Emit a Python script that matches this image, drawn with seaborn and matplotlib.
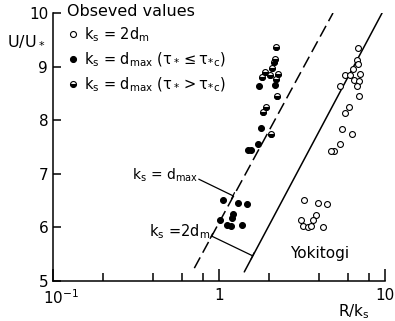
import matplotlib
matplotlib.use("Agg")
import matplotlib.pyplot as plt
from matplotlib.lines import Line2D
from matplotlib.markers import MarkerStyle
from matplotlib.ticker import FixedLocator, NullFormatter
from matplotlib.transforms import ScaledTranslation
import pandas as pd
import seaborn as sns

# ── Data ─────────────────────────────────────────────────────────────────────

# ks = 2dm (open circles)
open_R = [6.91, 6.78, 6.88, 6.39, 5.72, 6.15, 7.07, 6.53, 7.00, 6.81, 5.33,
          6.97, 6.07, 5.78, 5.48, 6.35, 5.39, 4.96, 4.73,
          3.26, 3.93, 4.46, 3.84, 3.70, 3.12, 3.22, 3.45, 3.59, 4.21]
open_U = [9.34, 9.13, 9.04, 8.95, 8.85, 8.85, 8.86, 8.75, 8.73, 8.64, 8.64,
          8.45, 8.25, 8.14, 7.84, 7.74, 7.55, 7.43, 7.43,
          6.52, 6.45, 6.44, 6.23, 6.14, 6.14, 6.03, 6.01, 6.03, 6.01]

# ks = dmax, tau* <= tau*c (filled)
filled_R = [2.18, 1.73, 1.78, 1.72, 1.56, 1.49,
            1.05, 1.31, 1.47, 1.21, 1.19, 1.02, 1.12, 1.18, 1.37]
filled_U = [8.66, 8.64, 7.85, 7.55, 7.44, 7.44,
            6.52, 6.45, 6.44, 6.25, 6.17, 6.13, 6.04, 6.03, 6.04]

# ks = dmax, tau* > tau*c (half filled)
half_R = [2.20, 2.16, 2.15, 2.08, 1.89, 2.03, 2.28, 2.19, 1.82,
          2.23, 1.92, 1.84, 2.07]
half_U = [9.36, 9.15, 9.08, 8.97, 8.90, 8.84, 8.86, 8.76, 8.81,
          8.46, 8.25, 8.15, 7.75]

# log-law lines
dashed_R = [0.71, 4.86]
dashed_U = [5.24, 10.0]
solid_R = [1.42, 9.6]
solid_U = [5.17, 10.0]

x_major = [0.1, 1, 10]
x_major_labels = ["10$^{-1}$", "1", "10"]
x_minor = [0.2, 0.4, 0.6, 0.8, 2, 4, 6, 8]
y_ticks = [5, 6, 7, 8, 9, 10]

# ── Style ────────────────────────────────────────────────────────────────────

sns.set_style("ticks")
plt.rcParams.update({
    "font.family": ["DejaVu Sans"],
    "xtick.direction": "in",
    "ytick.direction": "in",
    "axes.linewidth": 1.1,
    "axes.edgecolor": "black",
    "axes.labelcolor": "black",
    "text.color": "black",
    "xtick.color": "black",
    "ytick.color": "black",
    "mathtext.default": "regular",
})

df_open = pd.DataFrame({"R": open_R, "U": open_U})
df_fill = pd.DataFrame({"R": filled_R, "U": filled_U})
df_half = pd.DataFrame({"R": half_R, "U": half_U})

fig = plt.figure(figsize=(3.95, 3.21), dpi=100)
ax = fig.add_axes([0.1342, 0.1246, 0.8405, 0.8349])

# lines
sns.lineplot(x=dashed_R, y=dashed_U, ax=ax, color="black", lw=1.1,
             estimator=None, sort=False)
ax.lines[-1].set_dashes([8, 3.5])
sns.lineplot(x=solid_R, y=solid_U, ax=ax, color="black", lw=1.1,
             estimator=None, sort=False)

MS = 18
sns.scatterplot(data=df_open, x="R", y="U", ax=ax, marker="o", s=MS,
                facecolor="white", edgecolor="black", linewidth=0.8, zorder=3)
sns.scatterplot(data=df_fill, x="R", y="U", ax=ax, marker="o", s=MS,
                facecolor="black", edgecolor="black", linewidth=0.8, zorder=3)
sns.scatterplot(data=df_half, x="R", y="U", ax=ax, marker="o", s=MS,
                facecolor="white", edgecolor="black", linewidth=0.8, zorder=3)
sns.scatterplot(data=df_half, x="R", y="U", ax=ax,
                marker=MarkerStyle("o", fillstyle="bottom"), s=MS,
                facecolor="black", edgecolor="black", linewidth=0.8, zorder=4)

ax.set_xscale("log")
ax.set_xlim(0.1, 10)
ax.set_ylim(5, 10)
ax.xaxis.set_major_locator(FixedLocator(x_major))
ax.set_xticklabels(x_major_labels)
ax.xaxis.set_minor_locator(FixedLocator(x_minor))
ax.xaxis.set_minor_formatter(NullFormatter())
ax.set_yticks(y_ticks)
ax.set_yticklabels([str(v) for v in y_ticks])
ax.tick_params(axis="x", which="major", length=9, width=1.1, pad=5, labelsize=11)
ax.tick_params(axis="x", which="minor", length=5.5, width=1.1)
ax.tick_params(axis="y", which="major", length=5.5, width=1.1, pad=3.5, labelsize=11)
sns.despine(ax=ax)

# nudge the 10^-1 label to the right, as in the reference
first = ax.get_xticklabels()[0]
first.set_transform(first.get_transform() + ScaledTranslation(8 / 100, 0, fig.dpi_scale_trans))

ax.set_xlabel("R/k$_s$", fontsize=11, va="center")
ax.xaxis.set_label_coords(0.905, -0.115)
ax.set_ylabel("U/U$_*$", fontsize=11.5, rotation=0, ha="center", va="center")
ax.yaxis.set_label_coords(-0.081, 0.893)

# annotations
ax.text(0.75, 6.98, "k$_s$ = d$_{max}$", ha="right", va="center", fontsize=10)
ax.annotate("", xy=(1.214, 6.59), xytext=(0.755, 6.90),
            arrowprops=dict(arrowstyle="-[, widthB=0.25, lengthB=0", lw=0.9,
                            color="black", shrinkA=0, shrinkB=0))
ax.text(0.89, 5.93, "k$_s$ =2d$_m$", ha="right", va="center", fontsize=10.5)
ax.annotate("", xy=(1.594, 5.47), xytext=(0.90, 5.84),
            arrowprops=dict(arrowstyle="|-|, widthA=0.2, widthB=0.25", lw=0.9,
                            color="black", shrinkA=0, shrinkB=0))
ax.text(2.68, 5.51, "Yokitogi", fontsize=11, ha="left", va="center")

# legend
handles = [
    Line2D([], [], ls="none", marker="o", ms=4.3, mfc="white", mec="black", mew=0.8),
    Line2D([], [], ls="none", marker="o", ms=4.3, mfc="black", mec="black", mew=0.8),
    Line2D([], [], ls="none", marker="o", ms=4.3, mfc="black", mec="black", mew=0.8,
           fillstyle="bottom", markerfacecoloralt="white"),
]
labels = ["k$_s$ = 2d$_m$",
          r"k$_s$ = d$_{max}$ ($\tau_*\leq\tau_{*c}$)",
          r"k$_s$ = d$_{max}$ ($\tau_*>\tau_{*c}$)"]
leg = ax.legend(handles, labels, title="Obseved values", loc="upper left",
                bbox_to_anchor=(0.042, 1.035), frameon=False, fontsize=10.5,
                title_fontsize=11.5, alignment="left", borderpad=0,
                handlelength=0.8, handletextpad=0.4, labelspacing=0.45,
                borderaxespad=0)

fig.savefig("out.png", dpi=100)
